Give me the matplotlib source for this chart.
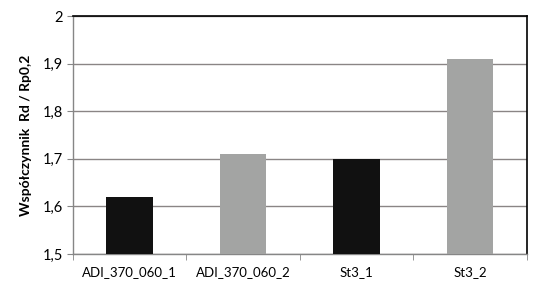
import matplotlib
matplotlib.use("Agg")
import matplotlib.pyplot as plt
from matplotlib.ticker import FuncFormatter

# Chart data
categories = ["ADI_370_060_1", "ADI_370_060_2", "St3_1", "St3_2"]
values = [1.62, 1.71, 1.70, 1.91]
bar_colors = ["#111111", "#a3a4a3", "#111111", "#a3a4a3"]
y_ticks = [1.5, 1.6, 1.7, 1.8, 1.9, 2.0]

plt.rcParams["font.family"] = ["Lato", "DejaVu Sans"]

fig = plt.figure(figsize=(5.43, 2.91), dpi=100)
ax = fig.add_axes([0.1344, 0.1271, 0.8361, 0.8179])

x = list(range(len(categories)))
ax.bar(x, values, width=0.41, color=bar_colors, zorder=3)

ax.set_xlim(-0.5, len(categories) - 0.5)
ax.set_ylim(1.5, 2.0)
ax.set_yticks(y_ticks)
ax.yaxis.set_major_formatter(
    FuncFormatter(lambda v, _: ("%g" % round(v, 2)).replace(".", ","))
)
ax.set_xticks(x)
ax.set_xticklabels(categories)
ax.set_xticks([i - 0.5 for i in range(len(categories) + 1)], minor=True)

ax.tick_params(axis="x", which="major", length=0, labelsize=9.5, pad=9)
ax.tick_params(axis="x", which="minor", length=4, color="#868686")
ax.tick_params(axis="y", length=4, color="#868686", labelsize=10.5, pad=3)

ax.grid(axis="y", color="#8a8585", linewidth=1, zorder=0)

for side in ("top", "right"):
    ax.spines[side].set_color("black")
    ax.spines[side].set_linewidth(1.2)
for side in ("left", "bottom"):
    ax.spines[side].set_color("#868686")
    ax.spines[side].set_linewidth(1)

ax.set_ylabel("Współczynnik  Rd / Rp0,2", fontsize=10, fontweight="bold", labelpad=8)

fig.savefig("out.png", dpi=100)
